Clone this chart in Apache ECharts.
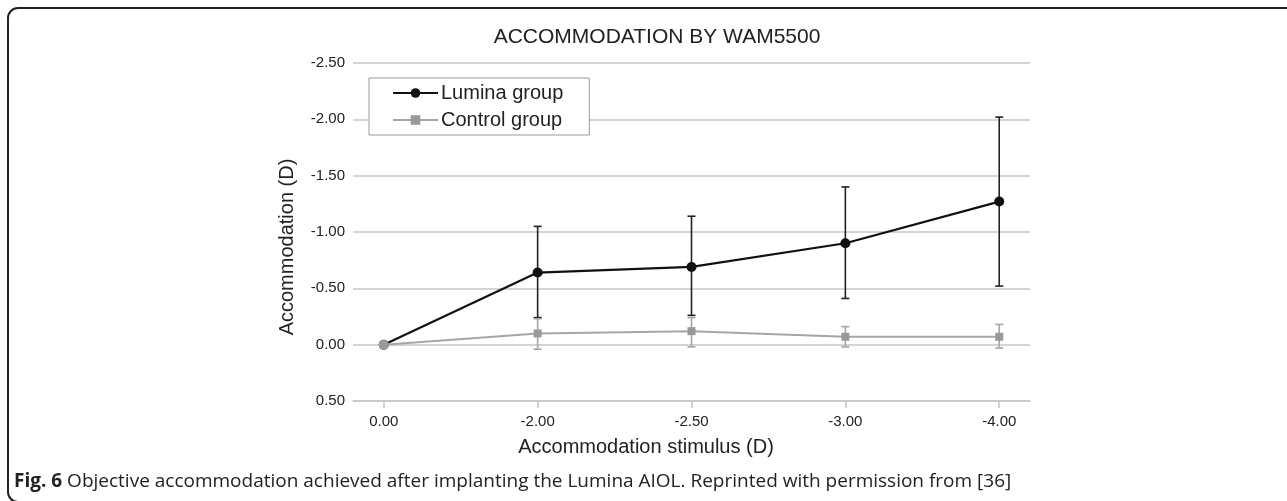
<!DOCTYPE html>
<html><head><meta charset="utf-8">
<script src="https://cdn.jsdelivr.net/npm/echarts@6/dist/echarts.min.js"></script>
<style>html,body{margin:0;padding:0;background:#fff}#c{width:1287px;height:501px}</style>
</head><body><div id="c"></div>
<script>
const categories = ['0.00', '-2.00', '-2.50', '-3.00', '-4.00'];
const luminaMean  = [0, -0.64, -0.69, -0.90, -1.27];
const luminaUpper = [0, -1.05, -1.14, -1.40, -2.02];
const luminaLower = [0, -0.24, -0.26, -0.41, -0.52];
const controlMean  = [0, -0.10, -0.12, -0.07, -0.07];
const controlUpper = [0, -0.23, -0.24, -0.16, -0.18];
const controlLower = [0, 0.04, 0.02, 0.02, 0.03];
const yMin = -2.5, yMax = 0.5, yStep = 0.5;

const FONT = 'Liberation Sans, Arial, sans-serif';
const chart = echarts.init(document.getElementById('c'));

function errRender(color) {
  return function (params, api) {
    const i = api.value(0);
    const top = api.coord([i, api.value(1)]);
    const bot = api.coord([i, api.value(2)]);
    const w = 4;
    const st = { stroke: color, lineWidth: 1.6 };
    return { type: 'group', children: [
      { type: 'line', shape: { x1: top[0], y1: top[1], x2: bot[0], y2: bot[1] }, style: st },
      { type: 'line', shape: { x1: top[0] - w, y1: top[1], x2: top[0] + w, y2: top[1] }, style: st },
      { type: 'line', shape: { x1: bot[0] - w, y1: bot[1], x2: bot[0] + w, y2: bot[1] }, style: st }
    ]};
  };
}
function errData(up, lo) {
  const out = [];
  categories.forEach((c, i) => { if (i > 0) out.push([i, up[i], lo[i]]); });
  return out;
}
const idx = categories.map((c, i) => i);

chart.setOption({
  animation: false,
  backgroundColor: '#fff',
  textStyle: { fontFamily: FONT },
  title: {
    text: 'ACCOMMODATION BY WAM5500',
    left: 652, top: 22, textAlign: 'center',
    textStyle: { fontFamily: FONT, fontSize: 21, fontWeight: 'normal', color: '#222' }
  },
  legend: {
    data: ['Lumina group', 'Control group'],
    orient: 'vertical',
    left: 369, top: 78,
    padding: [5, 26, 5, 23],
    itemGap: 7,
    itemWidth: 45, itemHeight: 12,
    borderColor: '#999', borderWidth: 1,
    backgroundColor: '#fff',
    textStyle: { fontFamily: FONT, fontSize: 20, color: '#222', padding: [0, 0, 0, -2] }
  },
  grid: { left: 353, right: 257, top: 63, bottom: 100, containLabel: false },
  xAxis: {
    type: 'value', min: -0.2, max: 4.2,
    splitLine: { show: false },
    axisLine: { show: true, onZero: false, lineStyle: { color: '#c6c6c6', width: 1.5 } },
    axisTick: { show: true, customValues: idx, length: 7, lineStyle: { color: '#c6c6c6', width: 1.5 } },
    axisLabel: { customValues: idx, margin: 13, fontSize: 15, color: '#222', fontFamily: FONT,
      formatter: v => categories[Math.round(v)] }
  },
  yAxis: {
    type: 'value', inverse: true, min: yMin, max: yMax, interval: yStep,
    axisLine: { show: false }, axisTick: { show: false },
    splitLine: { show: true, lineStyle: { color: '#c6c6c6', width: 1.5 } },
    axisLabel: { margin: 8, fontSize: 15, color: '#222', fontFamily: FONT, formatter: v => v.toFixed(2) }
  },
  graphic: [
    { type: 'rect', shape: { x: 8, y: 8, width: 1400, height: 494, r: 10 },
      style: { fill: 'none', stroke: '#222', lineWidth: 2 }, silent: true },
    { type: 'text', x: 287, y: 247, rotation: Math.PI / 2,
      style: { text: 'Accommodation (D)', fontSize: 20, fontFamily: FONT, fill: '#222', align: 'center', verticalAlign: 'middle' } },
    { type: 'text', x: 646, y: 447,
      style: { text: 'Accommodation stimulus (D)', fontSize: 20, fontFamily: FONT, fill: '#222', align: 'center', verticalAlign: 'middle' } },
    { type: 'text', x: 14, y: 482,
      style: { text: '{b|Fig. 6} Objective accommodation achieved after implanting the Lumina AIOL. Reprinted with permission from [36]',
        fontSize: 19, fontFamily: 'Open Sans, sans-serif', fill: '#222', verticalAlign: 'middle',
        rich: { b: { fontWeight: 'bold', fontSize: 19, fontFamily: 'Open Sans, sans-serif', fill: '#222' } } } }
  ],
  series: [
    { type: 'custom', name: 'lumErr', renderItem: errRender('#222'), data: errData(luminaUpper, luminaLower), z: 2, silent: true },
    { type: 'custom', name: 'ctlErr', renderItem: errRender('#a6a6a6'), data: errData(controlUpper, controlLower), z: 2, silent: true },
    { type: 'line', name: 'Lumina group', data: luminaMean.map((v, i) => [i, v]),
      symbol: 'circle', symbolSize: 10, z: 3,
      lineStyle: { color: '#111', width: 2.2 }, itemStyle: { color: '#111' } },
    { type: 'line', name: 'Control group',
      data: controlMean.map((v, i) => i === 0 ? { value: [i, v], symbol: 'circle', symbolSize: 10 } : [i, v]),
      symbol: 'rect', symbolSize: 8, z: 4,
      lineStyle: { color: '#a6a6a6', width: 2 }, itemStyle: { color: '#999' } }
  ]
});
</script></body></html>
